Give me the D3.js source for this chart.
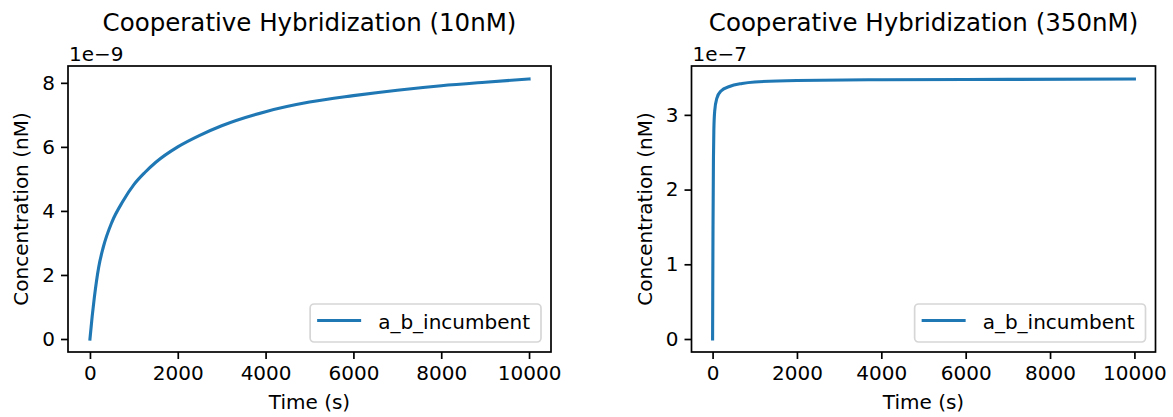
<!DOCTYPE html>
<html>
<head>
<meta charset="utf-8">
<script src="https://cdn.jsdelivr.net/npm/d3@7"></script>
<style>
  body { margin: 0; background: #ffffff; }
  text { font-family: "DejaVu Sans", sans-serif; fill: #000000; }
</style>
</head>
<body>
<div id="chart"></div>
<script>

// Data (time in s, concentration in scaled units)
var timeLow = [0, 50, 100, 200, 300, 500, 750, 1000, 1250, 1500, 2000, 2500, 3000, 4000, 5000, 6000, 7000, 8000, 9000, 10000];
var concLow = [0, 0.7, 1.3, 2.25, 2.85, 3.65, 4.3, 4.82, 5.2, 5.52, 6.0, 6.36, 6.66, 7.1, 7.4, 7.6, 7.77, 7.91, 8.02, 8.12];

var timeHigh = [0, 5, 10, 20, 30, 50, 100, 200, 400, 700, 1000, 2000, 4000, 7000, 10000];
var concHigh = [0, 0.8, 1.5, 2.4, 2.8, 3.05, 3.22, 3.32, 3.38, 3.42, 3.44, 3.46, 3.47, 3.475, 3.48];

var titles = ["Cooperative Hybridization (10nM)", "Cooperative Hybridization (350nM)"];
var offsetLabels = ["1e\u22129", "1e\u22127"];
var xTicks = [0, 2000, 4000, 6000, 8000, 10000];
var yTicksLow = [0, 2, 4, 6, 8];
var yTicksHigh = [0, 1, 2, 3];
var seriesName = "a_b_incumbent";

var svgWidth = 1173;
var svgHeight = 417;
var lineColor = "#1f77b4";

var svg = d3.select("#chart")
    .append("svg")
    .attr("width", svgWidth)
    .attr("height", svgHeight);

svg.append("rect")
    .attr("width", svgWidth)
    .attr("height", svgHeight)
    .attr("fill", "#ffffff");

// pad a domain by 5% each side, like matplotlib
function padded(values) {
    var ext = d3.extent(values);
    var m = (ext[1] - ext[0]) * 0.05;
    return [ext[0] - m, ext[1] + m];
}

function drawPanel(box, times, concs, yTicks, title, offsetLabel, ylabelX) {
    var points = times.map(function(t, i) { return {t: t, c: concs[i]}; });

    var x = d3.scaleLinear().domain(padded(times)).range([box.left, box.right]);
    var y = d3.scaleLinear().domain(padded(concs)).range([box.bottom, box.top]);

    var g = svg.append("g");

    // Line
    var line = d3.line()
        .x(d => x(d.t))
        .y(d => y(d.c))
        .curve(d3.curveMonotoneX);

    g.append("path")
        .datum(points)
        .attr("fill", "none")
        .attr("stroke", lineColor)
        .attr("stroke-width", 3.1)
        .attr("stroke-linecap", "square")
        .attr("d", line);

    // Axes
    var bottomAxis = d3.axisBottom(x).tickValues(xTicks).tickSize(7).tickPadding(6).tickFormat(d3.format("d"));
    var leftAxis = d3.axisLeft(y).tickValues(yTicks).tickSize(7).tickPadding(6).tickFormat(d3.format("d"));

    var xAxis = g.append("g")
        .attr("transform", `translate(0, ${box.bottom})`)
        .call(bottomAxis);
    var yAxis = g.append("g")
        .attr("transform", `translate(${box.left}, 0)`)
        .call(leftAxis);

    [xAxis, yAxis].forEach(function(a) {
        a.select(".domain").remove();
        a.selectAll(".tick line").attr("stroke", "#000").attr("stroke-width", 1.7);
        a.selectAll(".tick text")
            .attr("font-size", "20px")
            .attr("font-family", "DejaVu Sans")
            .attr("fill", "#000");
    });
    xAxis.selectAll(".tick text").attr("dy", "0.76em");

    // Frame
    g.append("rect")
        .attr("x", box.left)
        .attr("y", box.top)
        .attr("width", box.right - box.left)
        .attr("height", box.bottom - box.top)
        .attr("fill", "none")
        .attr("stroke", "#000")
        .attr("stroke-width", 1.7);

    // Title, offset text and axis labels
    g.append("text")
        .attr("x", (box.left + box.right) / 2)
        .attr("y", 31)
        .attr("text-anchor", "middle")
        .attr("font-size", "24.5px")
        .text(title);

    g.append("text")
        .attr("x", box.left + 1)
        .attr("y", 60.7)
        .attr("font-size", "20px")
        .text(offsetLabel);

    g.append("text")
        .attr("x", (box.left + box.right) / 2)
        .attr("y", 409)
        .attr("text-anchor", "middle")
        .attr("font-size", "20px")
        .text("Time (s)");

    g.append("text")
        .attr("transform", `translate(${ylabelX}, ${(box.top + box.bottom) / 2}) rotate(-90)`)
        .attr("text-anchor", "middle")
        .attr("font-size", "20px")
        .text("Concentration (nM)");

    // Legend in lower right
    var legend = g.append("g");
    var legendFrame = legend.append("rect");
    var legendText = legend.append("text")
        .attr("font-size", "20px")
        .text(seriesName);
    var textLen = legendText.node().getComputedTextLength();
    var lw = 68 + textLen + 11;
    var lh = 38;
    var lx = box.right - 10 - lw;
    var ly = box.bottom - 10 - lh;

    legendFrame
        .attr("x", lx)
        .attr("y", ly)
        .attr("width", lw)
        .attr("height", lh)
        .attr("rx", 4)
        .attr("fill", "#ffffff")
        .attr("fill-opacity", 0.8)
        .attr("stroke", "#d6d6d6")
        .attr("stroke-width", 1.7);

    legend.append("line")
        .attr("x1", lx + 7)
        .attr("x2", lx + 51)
        .attr("y1", ly + 16.5)
        .attr("y2", ly + 16.5)
        .attr("stroke", lineColor)
        .attr("stroke-width", 3.1);

    legendText
        .attr("x", lx + 68)
        .attr("y", ly + 25.3);
}

drawPanel({left: 68, right: 551, top: 66, bottom: 352},
    timeLow, concLow, yTicksLow, titles[0], offsetLabels[0], 28);

drawPanel({left: 691.5, right: 1155.5, top: 66, bottom: 352},
    timeHigh, concHigh, yTicksHigh, titles[1], offsetLabels[1], 652);

</script>
</body>
</html>
